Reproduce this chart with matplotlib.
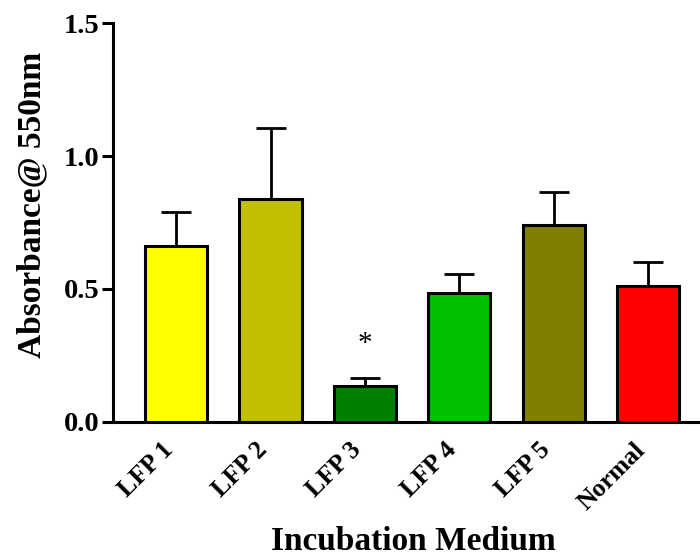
import numpy as np
import matplotlib
matplotlib.use("Agg")
import matplotlib.pyplot as plt

# Dados
grupos = ["LFP 1", "LFP 2", "LFP 3", "LFP 4", "LFP 5", "Normal"]
media = [0.661, 0.840, 0.134, 0.483, 0.741, 0.512]
erro = [0.130, 0.267, 0.032, 0.073, 0.123, 0.090]
cores = ["#FFFF00", "#C0C000", "#008000", "#00C000", "#808000", "#FF0000"]
signif = ["", "", "*", "", "", ""]

plt.rcParams['font.family'] = ['Liberation Serif', 'DejaVu Serif']

fig = plt.figure(figsize=(7, 5.58), dpi=100)
ax = fig.add_axes([0.1614, 0.2443, 0.8386, 0.7139])

x = np.arange(len(grupos))
ax.bar(x, media, width=0.66, color=cores, edgecolor='black', linewidth=2.2, zorder=3)
ax.errorbar(x, media, yerr=[np.zeros(len(erro)), erro], fmt='none', ecolor='black',
            elinewidth=2.0, capsize=11, capthick=2.0, zorder=2)

for xi, m, e, s in zip(x, media, erro, signif):
    if s:
        ax.text(xi, m + e + 0.125, s, ha='center', va='center', fontsize=21)

ax.set_xlim(-0.67, 5.55)
ax.set_ylim(0, 1.5)
ax.set_yticks([0.0, 0.5, 1.0, 1.5])
ax.set_yticklabels(["0.0", "0.5", "1.0", "1.5"], fontsize=20.5, fontweight='bold')
# ticks do eixo x são invisíveis; ficam um pouco à esquerda p/ alinhar os rótulos giratórios
ax.set_xticks(x - 0.16)
ax.set_xticklabels(grupos, rotation=45, ha='right', rotation_mode='anchor',
                   fontsize=18.5, fontweight='bold')
ax.tick_params(axis='y', length=8, width=2.2, pad=2)
ax.tick_params(axis='x', length=0, pad=12)

ax.spines['top'].set_visible(False)
ax.spines['right'].set_visible(False)
ax.spines['left'].set_linewidth(2.2)
ax.spines['bottom'].set_linewidth(2.2)

ax.set_ylabel("Absorbance@ 550nm", fontsize=24, fontweight='bold')
ax.yaxis.set_label_coords(-0.112, 0.544)
ax.set_xlabel("Incubation Medium", fontsize=24, fontweight='bold')
ax.xaxis.set_label_coords(0.511, -0.262)

fig.savefig("out.png", dpi=100)
